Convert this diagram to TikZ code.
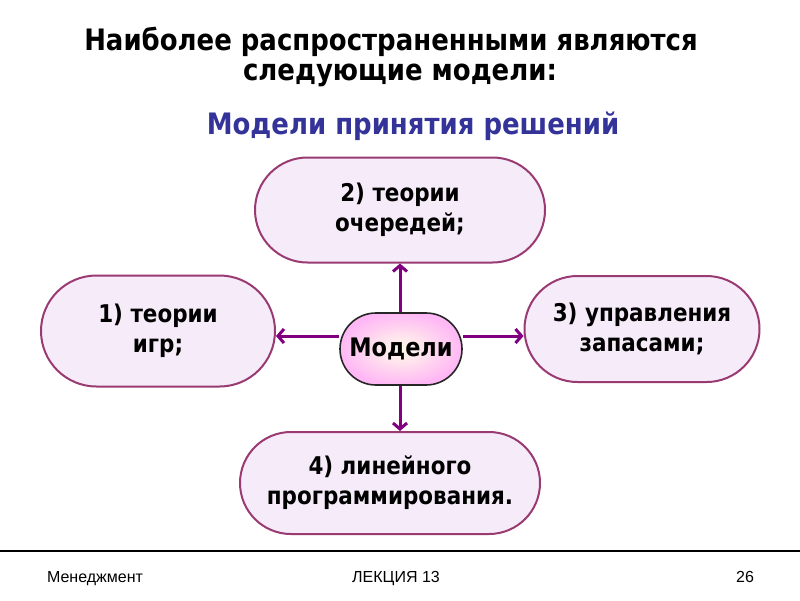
\documentclass[tikz,border=0pt]{standalone}
\usepackage{fontspec}
\setmainfont{DejaVu Sans}[FakeStretch=0.88]
\newfontfamily\footfont{Liberation Sans}
\usetikzlibrary{shapes.misc,arrows.meta}
\definecolor{boxfill}{HTML}{F6ECF9}
\definecolor{boxline}{HTML}{9A3A72}
\definecolor{arrcol}{HTML}{800080}
\definecolor{subtitle}{HTML}{333399}
\definecolor{cpink}{HTML}{FFB8F5}
\definecolor{cyel}{HTML}{FFFDE8}
\tikzset{
  titletext/.style={font=\fontsize{29.5}{30}\selectfont\bfseries, inner sep=0pt, anchor=base},
  modelbox/.style={rounded rectangle, draw=boxline, line width=2pt, fill=boxfill,
    align=center, font=\fontsize{24.4}{30}\selectfont\bfseries, inner sep=0pt},
  centerbox/.style={rounded rectangle, draw=black!85, line width=1.6pt,
    inner color=cyel, outer color=cpink, minimum width=122pt, minimum height=72pt,
    font=\fontsize{25.5}{27}\selectfont\bfseries, inner sep=0pt},
  arr/.style={draw=arrcol, line width=3pt, -{Straight Barb[length=6pt,width=14pt]}},
  foot/.style={font=\footfont\fontsize{16}{18}\selectfont, anchor=base}
}
\begin{document}
\begin{tikzpicture}[x=1pt,y=-1pt]
\useasboundingbox[fill=white] (0,0) rectangle (800,600);
\node[titletext] (t1) at (391,50) {Наиболее распространенными являются};
\node[titletext] (t2) at (400,80) {следующие модели:};
\node[titletext, text=subtitle] (st) at (413,134) {Модели принятия решений};

\node[modelbox, minimum width=290pt, minimum height=105pt] (top) at (400,210) {2) теории\\очередей;};
\node[modelbox, minimum width=234pt, minimum height=111pt] (lft) at (158,331) {1) теории\\игр;};
\node[modelbox, minimum width=235pt, minimum height=106pt] (rgt) at (642,329) {3) управления\\запасами;};
\node[modelbox, minimum width=300pt, minimum height=102pt] (bot) at (390,483) {4) линейного\\программирования.};
\node[centerbox] (m) at (401,349) {Модели};

\draw[arr] (m.north -| 400,0) -- (top.south -| 400,0);
\draw[arr] (m.south -| 400,0) -- (bot.north -| 400,0);
\draw[arr] (m.west |- 0,336) -- (lft.east |- 0,336);
\draw[arr] (m.east |- 0,336) -- (rgt.west |- 0,336);

\coordinate (la) at (0,551);
\coordinate (lb) at (800,551);
\draw[line width=1.5pt] (la) -- (lb);
\node[foot] (f1) at (95,582) {Менеджмент};
\node[foot] (f2) at (396,582) {ЛЕКЦИЯ 13};
\node[foot] (f3) at (745,582) {26};
\end{tikzpicture}
\end{document}
